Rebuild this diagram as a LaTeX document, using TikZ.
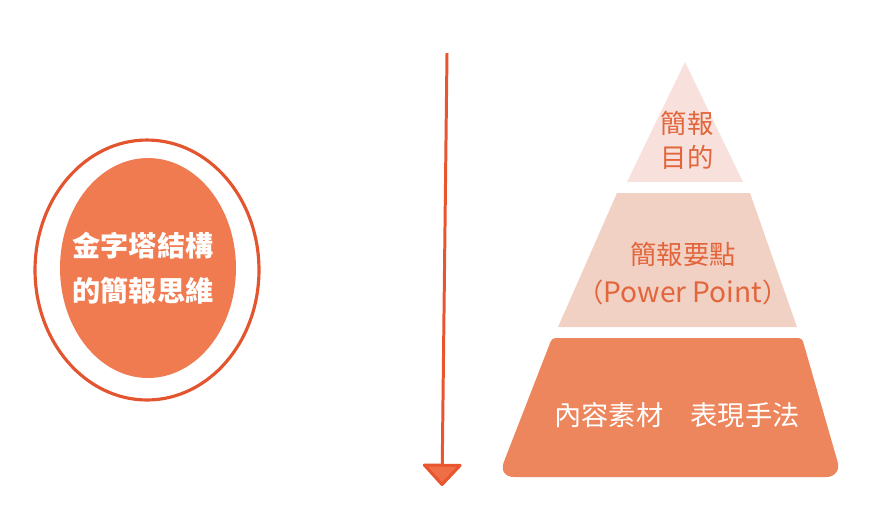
\documentclass[tikz,border=0pt]{standalone}
\usepackage{fontspec}
\newfontfamily\tcfont{Noto Sans CJK TC}
\usetikzlibrary{arrows.meta, shapes.geometric}
\definecolor{mRing}{HTML}{E3552F}
\definecolor{mDisc}{HTML}{F07B50}
\definecolor{mArrow}{HTML}{E8552F}
\definecolor{mHead}{HTML}{F06E45}
\definecolor{mTop}{HTML}{F8E1DC}
\definecolor{mMid}{HTML}{F2D1C5}
\definecolor{mBase}{HTML}{EE865D}
\definecolor{mText}{HTML}{E2653B}
\tikzset{
  ring/.style={draw=mRing, ellipse, line width=1.8pt, minimum width=4.48cm,
               minimum height=5.2cm, inner sep=0pt},
  disc/.style={fill=mDisc, ellipse, minimum width=3.52cm, minimum height=4.4cm,
               inner sep=0pt},
  disctext/.style={text=white, align=center, inner sep=0pt,
               font=\tcfont\bfseries\fontsize{16}{25.5}\selectfont},
  ptext/.style={text=mText, align=center, inner sep=0pt,
                font=\tcfont\fontsize{15}{18}\selectfont},
  flow/.style={mArrow, line width=1.7pt,
               -{Triangle[width=0.84cm, length=0.46cm, round, fill=mHead]}},
}

\begin{document}
\begin{tikzpicture}[x=0.02cm, y=-0.02cm]
    \useasboundingbox (0,0) rectangle (871,518);
    % left badge
    \node[ring] (ring) at (147,270) {};
    \node[disc] (disc) at (148,268) {};
    \node[disctext] (title) at (143,268) {金字塔結構\\的簡報思維};
    % arrow
    \coordinate (atop) at (447,53);
    \coordinate (abot) at (442,486);
    \draw[flow] (atop) -- (abot);
    % pyramid
    \fill[mTop] (685,62) -- (743,182) -- (627,182) -- cycle;
    \fill[mMid] (617,193) -- (750,193) -- (797,327) -- (558,327) -- cycle;
    \fill[mBase, rounded corners=2pt] (552,338) -- (802,338)
      [rounded corners=9pt] -- (842,477) -- (498,477) [rounded corners=2pt] -- cycle;
    \node[ptext, font=\tcfont\fontsize{15}{19.3}\selectfont] (goal) at (687,140) {簡報\\目的};
    \node[ptext, font=\tcfont\fontsize{15}{21.6}\selectfont] (point) at (683,274)
      {簡報要點\\（{\fontsize{16}{21.6}\selectfont Power Point}）};
    \node[ptext, text=white, font=\tcfont\fontsize{15.5}{18}\selectfont] (base) at (677,415)
      {內容素材\quad 表現手法};
  \end{tikzpicture}
\end{document}
